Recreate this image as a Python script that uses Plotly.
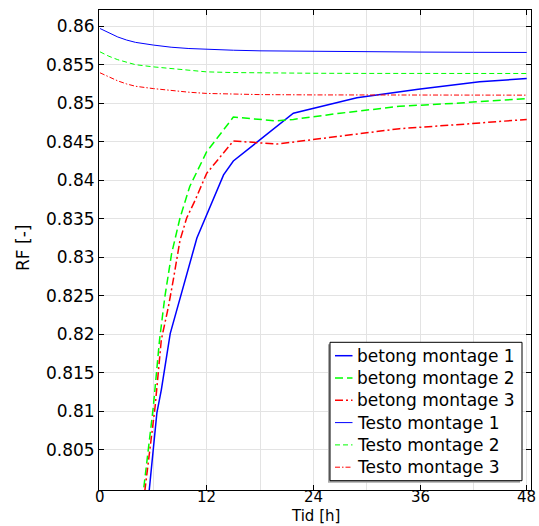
import plotly.graph_objects as go

# Measured relative humidity (betong) and logger readings (Testo), three mountings
t_betong1 = [5.2, 5.8, 6.4, 6.9, 7.9, 10.9, 13.9, 15.0, 21.75, 28.9, 35.8, 42.7, 48.0]
rf_betong1 = [0.7958, 0.8028, 0.8098, 0.8128, 0.8201, 0.8325, 0.8407, 0.8425,
              0.8487, 0.8507, 0.8518, 0.8528, 0.8532]

t_betong2 = [4.5, 4.9, 6.0, 6.7, 7.3, 8.06, 9.0, 10.1, 12.0, 15.0, 19.9, 21.75,
             27.0, 33.7, 40.0, 48.0]
rf_betong2 = [0.7955, 0.7998, 0.8106, 0.8193, 0.8249, 0.8305, 0.8351, 0.8392,
              0.8437, 0.8482, 0.8477, 0.8479, 0.8487, 0.8496, 0.8500, 0.8506]

t_betong3 = [4.6, 5.06, 6.2, 6.9, 7.7, 8.25, 9.0, 9.75, 10.7, 12.0, 15.0, 19.9,
             26.0, 33.7, 40.0, 48.0]
rf_betong3 = [0.7955, 0.7998, 0.8106, 0.8193, 0.8236, 0.8271, 0.8322, 0.8351,
              0.8374, 0.8409, 0.8451, 0.8447, 0.8456, 0.8467, 0.8472, 0.8479]

t_testo = [0, 1, 2, 3, 4, 6, 8, 10, 12, 15, 18, 24, 30, 36, 42, 48]
rf_testo1 = [0.8597, 0.8591, 0.8586, 0.8582, 0.8579, 0.85755, 0.85727, 0.8571,
             0.85698, 0.85688, 0.8568, 0.85672, 0.85667, 0.85664, 0.85661, 0.85659]
rf_testo2 = [0.85667, 0.8561, 0.85565, 0.8553, 0.8550, 0.85472, 0.8545, 0.85425,
             0.85407, 0.85398, 0.85393, 0.85389, 0.85387, 0.85386, 0.85386, 0.85386]
rf_testo3 = [0.85395, 0.8534, 0.8529, 0.8525, 0.8522, 0.8519, 0.85165, 0.85143,
             0.85127, 0.85118, 0.85112, 0.85108, 0.85106, 0.85105, 0.85105, 0.85105]

x_ticks = [0, 12, 24, 36, 48]
x_minor = [6, 18, 30, 42]
y_ticks = [0.805, 0.81, 0.815, 0.82, 0.825, 0.83, 0.835, 0.84, 0.845, 0.85, 0.855, 0.86]

FONT = "DejaVu Sans"
W, H = 539, 526
ML, MR, MT, MB = 99, 8, 10, 36
PW, PH = W - ML - MR, H - MT - MB

series = [
    ("betong montage 1", t_betong1, rf_betong1, "#0000ff", "solid", 1.5),
    ("betong montage 2", t_betong2, rf_betong2, "#00ff00", "8px,4px", 1.5),
    ("betong montage 3", t_betong3, rf_betong3, "#ff0000", "8px,3px,2px,3px", 1.5),
    ("Testo montage 1", t_testo, rf_testo1, "#0000ff", "solid", 1.0),
    ("Testo montage 2", t_testo, rf_testo2, "#00ff00", "5px,3px", 1.0),
    ("Testo montage 3", t_testo, rf_testo3, "#ff0000", "5px,2px,1.5px,2px", 1.0),
]


def px(x):
    return (x - ML) / PW


def py(y):
    return (H - MB - y) / PH


fig = go.Figure()
for name, xs, ys, color, dash, width in series:
    fig.add_trace(go.Scatter(
        x=xs, y=ys, mode="lines", name=name, showlegend=False,
        line=dict(color=color, dash=dash, width=width),
    ))

# Boxed legend with short line samples
shapes = [
    dict(type="rect", xref="paper", yref="paper", layer="above",
         x0=px(328), x1=px(520), y0=py(482.7), y1=py(344.3),
         fillcolor="#a8a8a8", line=dict(width=0)),
    dict(type="rect", xref="paper", yref="paper", layer="above",
         x0=px(330), x1=px(522), y0=py(480.7), y1=py(342.3),
         fillcolor="white", line=dict(color="black", width=1)),
]
annotations = []
row0, row_step = 355.7, 22.3
for i, (name, _, _, color, dash, width) in enumerate(series):
    yc = row0 + i * row_step
    shapes.append(dict(type="line", xref="paper", yref="paper", layer="above",
                       x0=px(335), x1=px(352.5), y0=py(yc), y1=py(yc),
                       line=dict(color=color, dash=dash, width=width)))
    annotations.append(dict(text=name, xref="paper", yref="paper",
                            x=px(355), y=py(yc), xanchor="left", yanchor="middle",
                            showarrow=False,
                            font=dict(family=FONT, size=17, color="black")))

# Time tick labels just under the axis
for v in x_ticks:
    annotations.append(dict(text=str(v), xref="x", yref="paper",
                            x=v, y=py(487), xanchor="center", yanchor="top",
                            showarrow=False, borderpad=0,
                            font=dict(family=FONT, size=15, color="black")))

# Axis titles
annotations.append(dict(text="Tid [h]", xref="paper", yref="paper",
                        x=px(315), y=py(526), xanchor="center", yanchor="bottom",
                        showarrow=False, borderpad=0,
                        font=dict(family=FONT, size=15, color="black")))
annotations.append(dict(text="RF [-]", xref="paper", yref="paper", textangle=-90,
                        x=px(23), y=py(248), xanchor="center", yanchor="middle",
                        showarrow=False, font=dict(family=FONT, size=17, color="black")))

fig.update_layout(
    width=W, height=H,
    margin=dict(l=ML, r=MR, t=MT, b=MB),
    paper_bgcolor="white", plot_bgcolor="white",
    font=dict(family=FONT, size=17, color="black"),
    showlegend=False,
    shapes=shapes,
    annotations=annotations,
)

fig.update_xaxes(
    range=[-0.11, 48.48], automargin=False,
    tickvals=x_ticks, showticklabels=False,
    ticks="inside", ticklen=5, tickcolor="black",
    showline=True, linecolor="black", linewidth=1, mirror="ticks",
    showgrid=True, gridcolor="#e3e3e3", gridwidth=1,
    zeroline=False,
    minor=dict(tickvals=x_minor, showgrid=True, gridcolor="#e3e3e3", ticks=""),
)

fig.update_yaxes(
    range=[0.7998, 0.8621], automargin=False,
    tickvals=y_ticks, ticktext=[f"{v:g}" for v in y_ticks],
    ticks="inside", ticklen=5, tickcolor="black",
    showline=True, linecolor="black", linewidth=1, mirror="ticks",
    showgrid=True, gridcolor="#e3e3e3", gridwidth=1,
    zeroline=False,
    tickfont=dict(family=FONT, size=17),
)

fig.write_html("out.html")
